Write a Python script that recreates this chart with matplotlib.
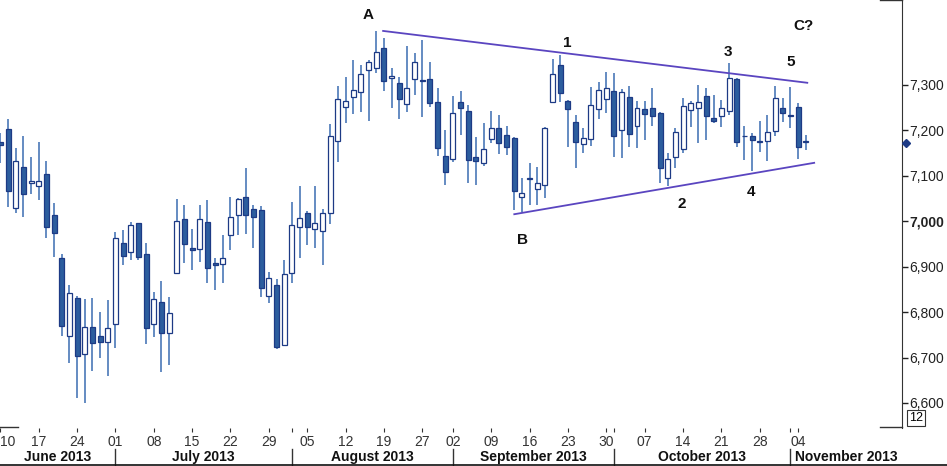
import numpy as np
import pandas as pd
import matplotlib
matplotlib.use("Agg")
import matplotlib.pyplot as plt
from matplotlib.transforms import blended_transform_factory
from matplotlib.lines import Line2D

plt.rcParams['font.family'] = ['Liberation Sans', 'DejaVu Sans']

# daily candles 10 Jun - 5 Nov 2013 (26 Aug bank holiday, no session)
opens = [7174, 7202, 7028, 7118, 7083, 7078, 7103, 7013, 6918, 6747,
         6831, 6707, 6767, 6748, 6735, 6773, 6951, 6931, 6995, 6927,
         6773, 6821, 6754, 6885, 7004, 6941, 6938, 6998, 6907, 6905,
         6969, 7013, 7052, 7026, 7024, 6835, 6859, 6727, 6886, 6987,
         7017, 6982, 6979, 7017, 7177, 7251, 7273, 7283, 7331, 7336,
         7381, 7315, 7304, 7257, 7312, 7310, 7312, 7261, 7143, 7136,
         7262, 7243, 7140, 7128, 7180, 7204, 7189, 7182, 7053, 7093,
         7070, 7079, 7262, 7342, 7264, 7218, 7169, 7180, 7246, 7268,
         7287, 7200, 7272, 7209, 7246, 7248, 7238, 7095, 7140, 7158,
         7244, 7249, 7275, 7227, 7232, 7243, 7312, 7187, 7187, 7174,
         7177, 7198, 7249, 7234, 7251, 7173]
highs = [7193, 7224, 7160, 7188, 7140, 7174, 7133, 7039, 6927, 6859,
         6836, 6828, 6831, 6799, 6826, 6976, 6980, 6999, 6996, 6951,
         6844, 6868, 6834, 7048, 7035, 6982, 7035, 7046, 6918, 6969,
         7052, 7050, 7116, 7035, 7033, 6888, 6872, 6914, 7042, 7077,
         7022, 7078, 7026, 7213, 7297, 7316, 7353, 7342, 7354, 7418,
         7402, 7337, 7316, 7385, 7369, 7397, 7350, 7292, 7200, 7276,
         7287, 7255, 7185, 7215, 7242, 7233, 7209, 7185, 7094, 7127,
         7118, 7206, 7356, 7365, 7266, 7233, 7204, 7294, 7306, 7328,
         7325, 7290, 7298, 7265, 7264, 7293, 7240, 7149, 7204, 7270,
         7265, 7299, 7293, 7277, 7266, 7347, 7314, 7209, 7193, 7220,
         7233, 7297, 7270, 7295, 7260, 7189]
lows = [7127, 7030, 7017, 7009, 7059, 7046, 6963, 6921, 6747, 6688,
        6611, 6599, 6671, 6700, 6659, 6720, 6903, 6914, 6914, 6729,
        6744, 6668, 6683, 6883, 6907, 6892, 6910, 6864, 6848, 6863,
        6936, 6969, 6971, 6940, 6833, 6819, 6718, 6725, 6863, 6918,
        6947, 6941, 6903, 6993, 7129, 7216, 7235, 7240, 7221, 7325,
        7287, 7248, 7224, 7240, 7277, 7228, 7250, 7144, 7079, 7129,
        7189, 7083, 7079, 7121, 7171, 7147, 7145, 7024, 7020, 7035,
        7035, 7050, 7259, 7262, 7163, 7116, 7149, 7165, 7224, 7238,
        7141, 7138, 7163, 7160, 7178, 7209, 7083, 7078, 7117, 7149,
        7206, 7171, 7178, 7215, 7206, 7233, 7163, 7134, 7111, 7152,
        7133, 7186, 7218, 7204, 7136, 7156]
closes = [7168, 7065, 7132, 7059, 7089, 7087, 6986, 6973, 6769, 6842,
          6703, 6766, 6732, 6733, 6764, 6962, 6924, 6991, 6921, 6765,
          6828, 6754, 6797, 7001, 6949, 6936, 7004, 6896, 6903, 6918,
          7008, 7048, 7013, 7008, 6853, 6874, 6723, 6883, 6991, 7006,
          6986, 6995, 7017, 7188, 7268, 7264, 7288, 7323, 7350, 7371,
          7308, 7320, 7268, 7293, 7350, 7307, 7259, 7160, 7108, 7237,
          7249, 7134, 7133, 7158, 7204, 7171, 7162, 7066, 7061, 7095,
          7083, 7204, 7323, 7281, 7246, 7173, 7182, 7255, 7288, 7292,
          7186, 7284, 7191, 7249, 7235, 7231, 7116, 7136, 7196, 7254,
          7259, 7262, 7231, 7221, 7248, 7314, 7174, 7188, 7178, 7175,
          7196, 7270, 7237, 7232, 7162, 7175]

price_ticks = [6600, 6700, 6800, 6900, 7000, 7100, 7200, 7300]
last_price = 7172

# wave count labels (trading-day index, price)
wave_text = ["A", "B", "1", "2", "3", "4", "5", "C?"]
wave_x = [48.0, 68.1, 73.9, 88.8, 94.8, 97.9, 103.0, 104.7]
wave_y = [7453, 6958, 7392, 7037, 7372, 7064, 7350, 7429]

# triangle boundaries
upper_x = [49.9, 105.2]
upper_y = [7418, 7304]
lower_x = [67.0, 106.1]
lower_y = [7015, 7128]

dates = pd.bdate_range("2013-06-10", "2013-11-05", freq="C", holidays=["2013-08-26"])
x = np.arange(len(dates))
o = np.array(opens)
c = np.array(closes)

W, H = 947, 466
fig = plt.figure(figsize=(W / 100, H / 100), dpi=100)
ax = fig.add_axes([0, 38 / H, 902 / W, 428 / H])
ax.set_xlim(-0.05, 117.55)
ax.set_ylim(6545, 7486)

navy = '#1d3a85'
ax.vlines(x, lows, highs, color='#4a78b8', lw=1.2, zorder=1)
down = c < o
body_lo = np.minimum(o, c)
body_h = np.abs(c - o)
ax.bar(x[down], body_h[down], bottom=body_lo[down], width=0.65,
       color='#2c5d9e', edgecolor=navy, lw=0.9, zorder=2)
ax.bar(x[~down], body_h[~down], bottom=body_lo[~down], width=0.65,
       color='white', edgecolor=navy, lw=0.9, zorder=2)

tri = '#5a45c0'
ax.plot(upper_x, upper_y, color=tri, lw=1.3, zorder=3)
ax.plot(lower_x, lower_y, color=tri, lw=1.3, zorder=3)

for t, xi, yi in zip(wave_text, wave_x, wave_y):
    ax.text(xi, yi, t, ha='center', va='center', fontsize=11,
            fontweight='bold', color='#111111')

# right price axis
for s in ['left', 'top', 'bottom']:
    ax.spines[s].set_visible(False)
ax.spines['right'].set_color('#333333')
ax.yaxis.tick_right()
ax.set_yticks(price_ticks)
ax.set_yticklabels([f"{v:,}" for v in price_ticks])
ax.tick_params(axis='y', length=4, width=1, pad=1, labelsize=10,
               colors='#222222')
for lab, v in zip(ax.get_yticklabels(), price_ticks):
    if v == 7000:
        lab.set_fontweight('bold')

ax.plot([1.004], [last_price], marker='D', ms=4.5, color=navy,
        transform=blended_transform_factory(ax.transAxes, ax.transData),
        clip_on=False, zorder=5)
ax.add_line(Line2D([880 / 902, 1], [1, 1], transform=ax.transAxes,
                   color='#333333', lw=1, clip_on=False))
ax.add_line(Line2D([880 / 902, 1], [0.002, 0.002], transform=ax.transAxes,
                   color='#333333', lw=1, clip_on=False))
ax.add_line(Line2D([0, 18 / 902], [0.002, 0.002], transform=ax.transAxes,
                   color='#333333', lw=1, clip_on=False))
fig.text(916 / W, 1 - 418 / H, "12", ha='center', va='center', fontsize=9,
         bbox=dict(boxstyle='square,pad=0.15', fc='white', ec='#333333', lw=0.8))

# date axis: first session of each week and month
week_first = pd.Series(x, index=dates).groupby(dates.to_period('W')).min().values
month_first = pd.Series(x, index=dates).groupby(dates.to_period('M')).min().values
ax.set_xticks(week_first)
ax.set_xticklabels([dates[i].strftime('%d') for i in week_first],
                   family=['Liberation Sans Narrow', 'Liberation Sans'])
ax.set_xticks(month_first[1:], minor=True)
ax.tick_params(axis='x', which='both', length=3, width=0.8, pad=2,
               labelsize=10, colors='#333333')
ax.get_xticklabels()[0].set_ha('left')

bt = blended_transform_factory(ax.transData, fig.transFigure)
edges = list(month_first) + [117.55]
for k, m in enumerate(month_first):
    left = max(m, 0)
    mid = (left + edges[k + 1]) / 2
    ax.text(mid, 1 - 457 / H, dates[m].strftime('%B %Y'), transform=bt,
            ha='center', va='center', fontsize=10, fontweight='bold',
            color='#111111', clip_on=False)
    if k > 0:
        ax.add_line(Line2D([m, m], [1 - 449 / H, 1 - 465 / H], transform=bt,
                           color='#333333', lw=1, clip_on=False))
fig.add_artist(Line2D([0, 1], [1 - 465 / H, 1 - 465 / H],
                      transform=fig.transFigure, color='#111111', lw=1.2))

fig.savefig('out.png', dpi=100)
